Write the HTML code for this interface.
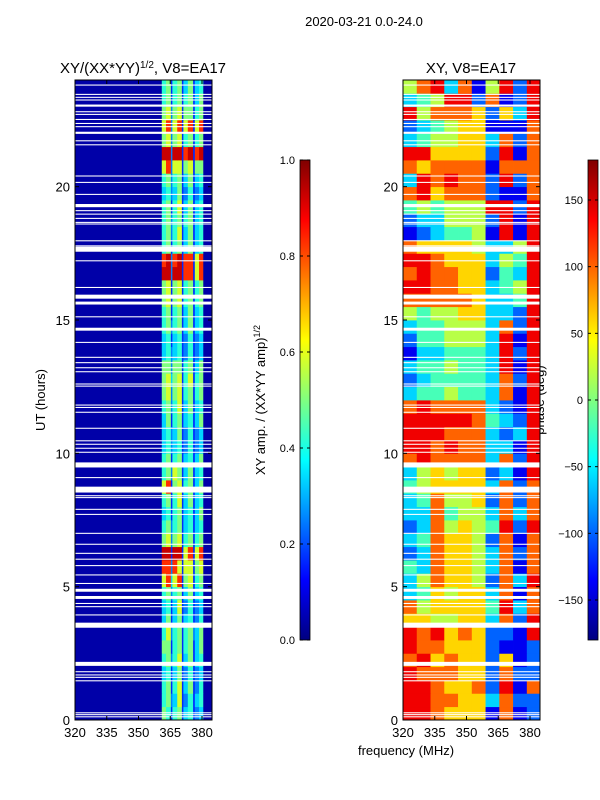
<!DOCTYPE html>
<html><head><meta charset="utf-8"><style>
html,body{margin:0;padding:0;background:#fff;}
svg{display:block;font-family:"Liberation Sans","DejaVu Sans",sans-serif;}
</style></head><body>
<svg id="fig" width="600" height="800" viewBox="0 0 600 800">
<text x="364" y="26" font-size="13" text-anchor="middle">2020-03-21 0.0-24.0</text>
<text x="143" y="73" font-size="15" text-anchor="middle">XY/(XX*YY)<tspan font-size="10" baseline-shift="super">1/2</tspan>, V8=EA17</text>
<text x="471" y="73" font-size="15" text-anchor="middle">XY, V8=EA17</text>
<text transform="translate(45,400) rotate(-90)" font-size="13" text-anchor="middle">UT (hours)</text>
<text x="406" y="755" font-size="13" text-anchor="middle">frequency (MHz)</text>
<text transform="translate(265,400) rotate(-90)" font-size="13" text-anchor="middle">XY amp. / (XX*YY amp)<tspan font-size="9" baseline-shift="super">1/2</tspan></text>
<text transform="translate(544,400) rotate(-90)" font-size="13" text-anchor="middle">phase (deg)</text>
<g id="left"></g>
<g id="right"></g>
<g id="cb"></g>
</svg>
<script>
// ---- data ----
const ampFreqEdges = [320,361,363,365.3,366,368.3,370.5,371.2,373.3,375.8,376.6,378.6,380.6,385];
const ampRows = [
"0652562452340","0563472352450","0562572462350","0452462352340","0563572462450","0662562562460",
"0573562563460","0462462452350","0452472352340","0563562462450","0784782672560","0883872772670",
"0992992782780","0673672562560","0563562452450","0452562452460","0562572462450","0782672562460",
"0563762462450","0562562452460","0453452352340","0453462352340","0462562452460","0563572462450",
"0673672562560","0674672572560","0663662562460","0453452352340","0452452352340","0563562462450",
"0562562462450","0672672562560","0672672562560","0993992882780","0893892882780","0562562462450",
"0563572462450","0563562562450","0562572462450","0453462352340","0563562462450","0783772672660",
"0993992892890","0673672562560","0783782782780","0673672662560","0562562562460","0562562462450"];
const phaseFreqEdges = [320,326.5,333,339.5,346,352.5,359,365.5,372,378.5,385];
const phaseRows = [
"8876661712","8877663722","8876672817","8777662722","7867662612","8776662112","8786762218","6655663728",
"7566664837","3465663717","3576652738","4376653717","2376653727","3476652717","2375654828","3374553737",
"3475562727","4566663727","3565662318","7877773728","8878773318","8887773238","8888874328","7877773218",
"3445443718","2344443728","3445443818","1334443828","2445553818","3445553728","5455663328","7777763348",
"8877663458","7877662438","8876663548","7666653358","1234451818","2335552818","4545558828","7867772117",
"3878772827","7677771777","8866662817","3455663727","2345661117","8577762638","3458827128","5783715828"];
const rowHours = 0.5;
const flagStart = [23.79,23.44,23.33,23.23,23.0,22.79,22.69,22.5,22.35,22.23,21.98,21.7,21.55,20.38,20.14,19.69,19.23,19.08,18.95,18.79,18.64,18.58,17.95,17.76,17.56,17.2,16.2,15.8,15.58,15.1,14.6,14.14,13.58,13.38,13.19,13.04,12.58,12.5,
11.79,11.7,11.52,10.92,10.45,10.32,10.17,10.02,9.47,9.07,8.71,8.53,8.39,8.32,7.88,7.69,6.98,6.57,6.23,6.01,5.77,5.42,5.1,4.81,4.54,4.35,4.23,3.92,3.46,2.03,1.79,1.67,1.58,1.45,0.25,0.18,0.1];
const flagDur = [0.04,0.04,0.04,0.04,0.08,0.04,0.04,0.04,0.04,0.04,0.08,0.04,0.04,0.04,0.04,0.04,0.12,0.04,0.04,0.04,0.04,0.04,0.04,0.04,0.19,0.04,0.04,0.15,0.11,0.04,0.11,0.04,0.04,0.04,0.04,0.04,0.04,0.04,
0.04,0.04,0.04,0.04,0.04,0.04,0.04,0.04,0.19,0.04,0.04,0.19,0.04,0.04,0.04,0.04,0.04,0.04,0.04,0.04,0.04,0.04,0.04,0.11,0.11,0.04,0.04,0.04,0.19,0.15,0.04,0.04,0.04,0.04,0.04,0.04,0.04];
const xTicks = [320,335,350,365,380];
const yTicks = [0,5,10,15,20];
const ampTicks = [0.0,0.2,0.4,0.6,0.8,1.0];
const phaseTicks = [-150,-100,-50,0,50,100,150];

// ---- helpers ----
const NS="http://www.w3.org/2000/svg";
function mk(tag,attrs,parent){const e=document.createElementNS(NS,tag);for(const k in attrs)e.setAttribute(k,attrs[k]);parent.appendChild(e);return e;}
function cl(x){return Math.max(0,Math.min(1,x));}
function jet(v){const r=cl(Math.min(4*v-1.5,-4*v+4.5)),g=cl(Math.min(4*v-0.5,-4*v+3.5)),b=cl(Math.min(4*v+0.5,-4*v+2.5));
 return `rgb(${Math.round(r*255)},${Math.round(g*255)},${Math.round(b*255)})`;}
const Y0=720,Y1=80;
function yScale(h){return Y0-(h/24)*(Y0-Y1);}
function xScaleFor(x0){return f=>x0+(f-320)*(127/60);}

function panel(g,x0,edges,rows,valFn,name){
 const xs=xScaleFor(x0), W=137;
 rows.forEach((row,ri)=>{
  const ya=yScale((ri+1)*rowHours), yb=yScale(ri*rowHours);
  for(let ci=0;ci<edges.length-1;ci++){
   const xa=xs(edges[ci]), xb=Math.min(xs(edges[ci+1]),x0+W);
   const r=mk('rect',{x:xa,y:ya,width:xb-xa+0.4,height:yb-ya+0.4,fill:jet(valFn(+row[ci]))},g);
   
   
  }
 });
 flagStart.forEach((s,i)=>{
  const ya=yScale(s+flagDur[i]), yb=yScale(s);
  const r=mk('rect',{x:x0,y:ya,width:W,height:Math.max(1,yb-ya),fill:'#fff'},g);
  
  
 });
 const fr=mk('rect',{x:x0,y:Y1,width:W,height:Y0-Y1,fill:'none',stroke:'#000','stroke-width':1},g);
 
 
 xTicks.forEach(t=>{
  const x=xs(t);
  mk('line',{x1:x,x2:x,y1:Y0,y2:Y0-4,stroke:'#000'},g);
  mk('line',{x1:x,x2:x,y1:Y1,y2:Y1+4,stroke:'#000'},g);
  const tx=mk('text',{x:x,y:Y0+17,'font-size':13,'text-anchor':'middle'},g);tx.textContent=t;
  
  
 });
 yTicks.forEach(t=>{
  const y=yScale(t);
  mk('line',{x1:x0,x2:x0+4,y1:y,y2:y,stroke:'#000'},g);
  mk('line',{x1:x0+W,x2:x0+W-4,y1:y,y2:y,stroke:'#000'},g);
  const tx=mk('text',{x:x0-5,y:y+5,'font-size':13,'text-anchor':'end'},g);tx.textContent=t;
  
  
 });
}
panel(document.getElementById('left'),75,ampFreqEdges,ampRows,d=>d===0?0.04:(d>=8?d/10+0.03:d/12),'amp');
panel(document.getElementById('right'),403,phaseFreqEdges,phaseRows,d=>d/9,'phase');

// colorbars
const cb=document.getElementById('cb');
const defs=mk('defs',{},cb);
const grad=mk('linearGradient',{id:'jetg',x1:0,y1:1,x2:0,y2:0},defs);
for(let i=0;i<=40;i++){mk('stop',{offset:i/40,'stop-color':jet(i/40)},grad);}
function colorbar(x,ticks,vmin,vmax,name,fmt){
 const r=mk('rect',{x:x,y:160,width:10,height:480,fill:'url(#jetg)',stroke:'#000','stroke-width':0.8},cb);
 
 
 ticks.forEach(t=>{
  const y=640-(t-vmin)/(vmax-vmin)*480;
  mk('line',{x1:x,x2:x+3,y1:y,y2:y,stroke:'#000'},cb);
  mk('line',{x1:x+10,x2:x+7,y1:y,y2:y,stroke:'#000'},cb);
  const tx=mk('text',{x:x-5,y:y+4,'font-size':11,'text-anchor':'end'},cb);tx.textContent=fmt(t);
  
  
 });
}
colorbar(300,ampTicks,0,1,'amp-colorbar',t=>t.toFixed(1));
colorbar(588,phaseTicks,-180,180,'phase-colorbar',t=>t<0?'\u2212'+(-t):String(t));
</script>
</body></html>
